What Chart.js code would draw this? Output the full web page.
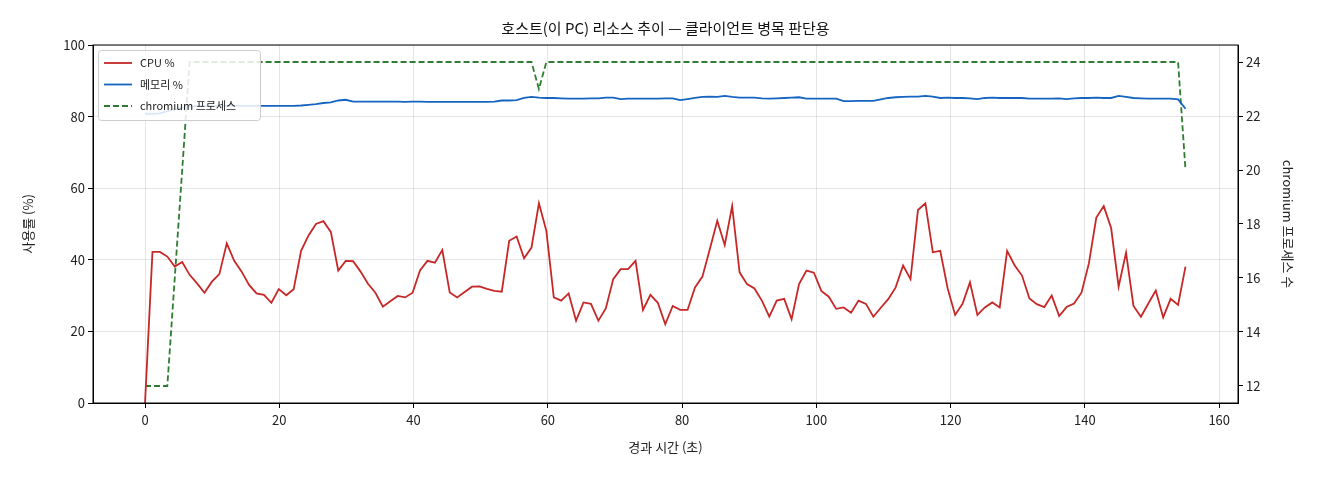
<!DOCTYPE html><html><head><meta charset="utf-8">
<script src="https://cdn.jsdelivr.net/npm/chart.js@4/dist/chart.umd.min.js"></script>
<style>body{margin:0;background:#fff}#w{width:1320px;height:480px}</style></head><body><div id="w"><canvas id="c"></canvas></div>
<script>
const SAMPLE_SEC = 1.107;
const cpu = [0,42.2,42.2,40.9,38.1,39.4,35.8,33.4,30.8,33.9,36,44.6,39.7,36.7,33,30.6,30.2,28,31.8,30.1,31.8,42.5,46.8,50,50.8,47.8,37,39.7,39.6,36.7,33.3,30.8,26.9,28.4,29.9,29.5,30.8,37,39.7,39.2,42.7,30.9,29.5,31,32.5,32.6,31.9,31.3,31.1,45.3,46.5,
40.4,43.4,55.8,48.1,29.5,28.6,30.6,23,28.1,27.7,23,26.4,34.6,37.4,37.4,39.7,26,30.2,28,22,27.1,26,26,32.3,35.3,43,50.9,44.1,55,36.5,33.2,32,28.6,24.1,28.6,29.1,23.4,33.2,37,36.4,31.3,29.7,26.3,26.7,25.2,28.6,27.7,24.1,26.6,
29,32.3,38.4,34.6,53.9,55.8,42.1,42.5,32,24.6,27.7,33.7,24.6,26.7,28.1,26.7,42.5,38.5,35.6,29.2,27.6,26.8,30,24.3,26.8,27.8,30.8,39,51.8,55,48.8,32.5,42,27.1,24.1,27.8,31.4,23.9,29.1,27.4,38.1];
const mem = [80.8,80.8,80.9,81.5,82,82.5,82.8,83,83,83,83,83,83,83,83,83,83,83,83,83,83,83.1,83.3,83.5,83.8,84,84.5,84.7,84.2,84.2,
84.2,84.2,84.2,84.2,84.2,84.1,84.2,84.2,84.1,84.1,84.1,84.1,84.1,84.1,84.1,84.1,84.1,84.2,84.5,84.5,84.6,85.2,85.5,85.3,85.2,85.2,85.1,85,85,85,
85.1,85.1,85.3,85.3,84.9,85,85,85,85,85,85.1,85.1,84.6,84.9,85.2,85.5,85.6,85.5,85.8,85.5,85.3,85.3,85.3,85.1,85,85.1,85.2,85.3,85.4,85,
85,85,85,85,84.3,84.3,84.4,84.4,84.4,84.8,85.2,85.4,85.5,85.6,85.6,85.8,85.6,85.2,85.3,85.2,85.2,85.1,84.9,85.2,85.3,85.2,85.2,85.2,85.2,85,
85,85,85,85.1,84.9,85.1,85.2,85.2,85.3,85.2,85.2,85.8,85.5,85.2,85.1,85,85,85,85,84.8,82.2];
const chromium = [12,12,12,12,16,20,24,24,24,24,24,24,24,24,24,24,24,24,24,24,24,24,24,24,24,24,24,24,24,24,
24,24,24,24,24,24,24,24,24,24,24,24,24,24,24,24,24,24,24,24,24,24,24,23,24,24,24,24,24,24,
24,24,24,24,24,24,24,24,24,24,24,24,24,24,24,24,24,24,24,24,24,24,24,24,24,24,24,24,24,24,
24,24,24,24,24,24,24,24,24,24,24,24,24,24,24,24,24,24,24,24,24,24,24,24,24,24,24,24,24,24,
24,24,24,24,24,24,24,24,24,24,24,24,24,24,24,24,24,24,24,24,20];
const labels = ['CPU %','메모리 %','chromium 프로세스'];
const xTicks = [0,20,40,60,80,100,120,140,160];
const t = cpu.map((_, i) => i * SAMPLE_SEC);
const pts = a => a.map((v,i)=>({x:t[i],y:v}));
const F = 'Noto Sans CJK KR, DejaVu Sans, sans-serif';
Chart.defaults.font.family = F; Chart.defaults.color = '#222';
const legendTitle = {id:'lt', afterDraw(ch){
  const c=ch.ctx; c.save();
  c.font='15px '+F; c.fillStyle='#111'; c.textAlign='center'; c.textBaseline='middle';
  c.fillText('호스트(이 PC) 리소스 추이 — 클라이언트 병목 판단용', (ch.chartArea.left+ch.chartArea.right)/2, 28);
  const x0=ch.chartArea.left+5, y0=ch.chartArea.top+5;
  c.fillStyle='rgba(255,255,255,0.85)'; c.strokeStyle='#ccc'; c.lineWidth=1;
  c.beginPath(); c.roundRect(x0+0.5,y0+0.5,162,70,3); c.fill(); c.stroke();
  c.font='11px '+F; c.textAlign='left';
  ch.data.datasets.forEach((d,i)=>{const y=y0+13+i*21.5;
    c.strokeStyle=d.borderColor; c.lineWidth=1.8; c.setLineDash(d.borderDash||[]);
    c.beginPath(); c.moveTo(x0+6,y); c.lineTo(x0+34,y); c.stroke(); c.setLineDash([]);
    c.fillStyle='#222'; c.fillText(d.label,x0+42,y);});
  c.restore();}};
new Chart(document.getElementById('c'),{type:'line',
 data:{datasets:[
  {label:labels[0],data:pts(cpu),borderColor:'#c62828',borderWidth:1.8,pointRadius:0,yAxisID:'y'},
  {label:labels[1],data:pts(mem),borderColor:'#1565c0',borderWidth:1.8,pointRadius:0,yAxisID:'y'},
  {label:labels[2],data:pts(chromium),borderColor:'#2e7d32',borderWidth:1.8,borderDash:[6,3],pointRadius:0,yAxisID:'y2'}]},
 options:{responsive:true,maintainAspectRatio:false,animation:false,
  layout:{padding:{top:45,left:16,right:20,bottom:21}},
  plugins:{legend:{display:false},tooltip:{enabled:false}},
  scales:{
   x:{type:'linear',min:-7.75,max:162.8,afterBuildTicks:s=>{s.ticks=xTicks.map(v=>({value:v}))},afterFit:s=>{s.height=56},
      grid:{color:'rgba(0,0,0,0.1)',tickColor:'#000',tickLength:5},border:{color:'#000'},
      ticks:{font:{size:13},padding:4,maxRotation:0},title:{display:true,text:'경과 시간 (초)',font:{size:13},padding:{top:4}}},
   y:{position:'left',min:0,max:100,ticks:{stepSize:20,font:{size:13}},afterFit:s=>{s.width=77},
      grid:{color:'rgba(0,0,0,0.1)',tickColor:'#000',tickLength:5},border:{color:'#000'},
      title:{display:true,text:'사용률 (%)',font:{size:13}}},
   y2:{position:'right',min:11.37,max:24.63,afterBuildTicks:s=>{s.ticks=[12,14,16,18,20,22,24].map(v=>({value:v}))},afterFit:s=>{s.width=62},
      grid:{drawOnChartArea:false,tickColor:'#000',tickLength:5},border:{color:'#000'},
      ticks:{font:{size:13}},title:{display:true,text:'chromium 프로세스 수',font:{size:13}}}}},
 plugins:[legendTitle,{id:'box',afterDraw(ch){const a=ch.chartArea,c=ch.ctx;c.save();c.strokeStyle='#000';c.lineWidth=1;c.strokeRect(a.left,a.top,a.right-a.left,a.bottom-a.top);c.restore();}}]});
</script></body></html>
